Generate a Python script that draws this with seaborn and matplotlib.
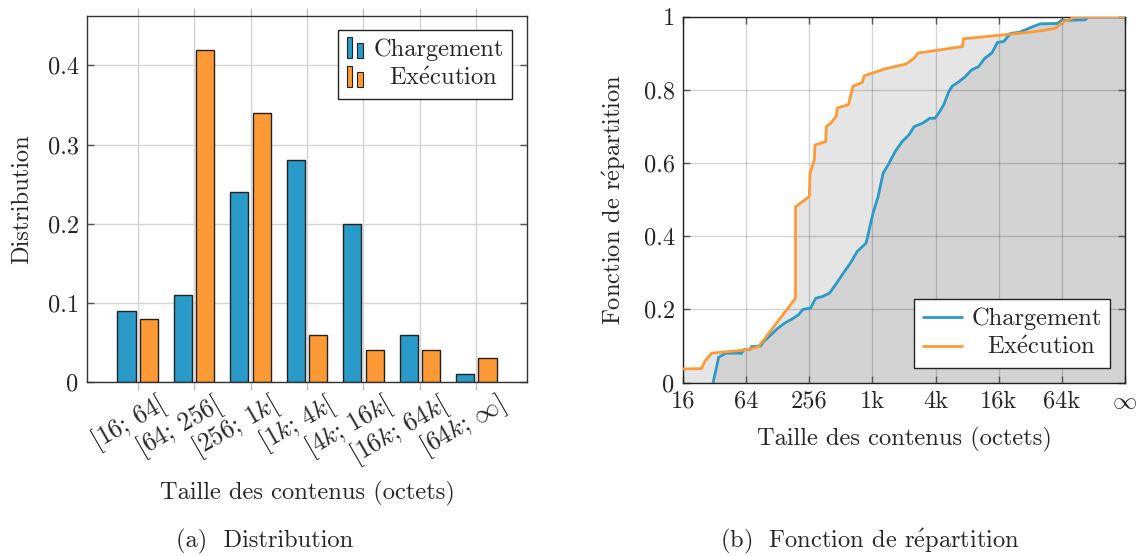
import numpy as np
import pandas as pd
import seaborn as sns
import matplotlib
matplotlib.use("Agg")
import matplotlib.pyplot as plt
import matplotlib.transforms as mtransforms
from matplotlib.patches import Rectangle
from matplotlib.legend_handler import HandlerBase
from matplotlib.lines import Line2D
from matplotlib.ticker import FixedLocator, FuncFormatter

# ---------------- data ----------------
categories = [r'$[16;\,64[$', r'$[64;\,256[$', r'$[256;\,1k[$', r'$[1k;\,4k[$',
              r'$[4k;\,16k[$', r'$[16k;\,64k[$', r'$[64k;\,\infty]$']
chargement_dist = [0.09, 0.11, 0.24, 0.28, 0.20, 0.06, 0.01]
execution_dist = [0.08, 0.42, 0.34, 0.06, 0.04, 0.04, 0.03]

exec_size = [16, 24, 26, 30, 64, 84, 189, 189, 256, 260, 286, 290, 367, 372, 416, 465,
             471, 605, 666, 820, 855, 1351, 2135, 2556, 2778, 7432, 7536, 32315, 43837,
             57052, 66454, 86475, 262144]
exec_cdf = [0.037, 0.038, 0.059, 0.080, 0.089, 0.098, 0.23, 0.48, 0.508, 0.572, 0.608,
            0.649, 0.658, 0.699, 0.71, 0.729, 0.75, 0.759, 0.809, 0.82, 0.838, 0.857,
            0.870, 0.886, 0.90, 0.918, 0.939, 0.957, 0.962, 0.968, 0.984, 0.998, 1.0]

charg_size = [31, 35, 41, 58, 60, 70, 72, 88, 94, 110, 128, 149, 174, 202, 223, 263, 294,
              342, 399, 465, 541, 630, 734, 891, 929, 1038, 1160, 1296, 1448, 1687, 1965,
              2288, 2556, 3104, 3615, 4040, 4390, 4904, 5479, 5872, 6840, 7748, 9025,
              10512, 12075, 14065, 15935, 18302, 21318, 25886, 33689, 40900, 59476, 64590,
              109474, 117331, 262144]
charg_cdf = [0.0, 0.069, 0.080, 0.080, 0.089, 0.091, 0.098, 0.100, 0.112, 0.130, 0.148,
             0.162, 0.173, 0.185, 0.200, 0.203, 0.230, 0.235, 0.244, 0.271, 0.299, 0.326,
             0.358, 0.381, 0.403, 0.463, 0.508, 0.572, 0.595, 0.631, 0.658, 0.677, 0.699,
             0.709, 0.722, 0.722, 0.736, 0.759, 0.795, 0.809, 0.822, 0.834, 0.854, 0.863,
             0.886, 0.90, 0.929, 0.932, 0.954, 0.957, 0.971, 0.98, 0.981, 0.989, 0.991,
             1.0, 1.0]

size_ticks = [16, 64, 256, 1024, 4096, 16384, 65536, 262144]
size_tick_labels = ['16', '64', '256', '1k', '4k', '16k', '64k', r'$\infty$']
EACUTE = r'$\acute{\mathrm{e}}$'
series_names = ['Chargement', 'Ex' + EACUTE + 'cution']

BLUE = '#2a9bc8'
ORANGE = '#fd9a35'

# ---------------- style ----------------
sns.set_theme(style='white')
plt.rcParams['font.family'] = ['cmr10', 'DejaVu Serif']
plt.rcParams['mathtext.fontset'] = 'cm'
plt.rcParams['axes.formatter.use_mathtext'] = True
plt.rcParams['axes.unicode_minus'] = False
FS = 17.6

W, H = 1139, 556
fig = plt.figure(figsize=(W / 100, H / 100), dpi=100)
L1, R1, T1, B1 = 87, 527, 15.5, 382
L2, R2, T2, B2 = 683, 1125, 16.5, 382.5
ax1 = fig.add_axes([L1 / W, 1 - B1 / H, (R1 - L1) / W, (B1 - T1) / H])
ax2 = fig.add_axes([L2 / W, 1 - B2 / H, (R2 - L2) / W, (B2 - T2) / H])

# ---------------- left: distribution ----------------
df = pd.DataFrame({
    'cat': categories * 2,
    'val': chargement_dist + execution_dist,
    'serie': [series_names[0]] * len(categories) + [series_names[1]] * len(categories),
})
sns.barplot(data=df, x='cat', y='val', hue='serie', order=categories,
            hue_order=series_names, palette=[BLUE, ORANGE], gap=0.2, width=0.8,
            edgecolor='#222222', linewidth=1.0, saturation=1, legend=False, ax=ax1)
ax1.set_xlim(-0.9, 6.9)
ax1.set_ylim(0, 0.463)
ax1.yaxis.set_major_locator(FixedLocator([0, 0.1, 0.2, 0.3, 0.4]))
ax1.yaxis.set_major_formatter(FuncFormatter(lambda v, p: '0' if v == 0 else f'{v:.1f}'))
ax1.set_axisbelow(True)
ax1.grid(True, color='#d4d4d4', linewidth=1.0)
ax1.tick_params(axis='x', which='both', direction='out', length=6, color='#c0c0c0',
                width=1, top=True, bottom=True, labelsize=18.5, pad=9)
ax1.tick_params(axis='y', direction='in', length=5, color='#555555', width=1,
                left=True, right=True, labelsize=FS, pad=6)
shift = mtransforms.ScaledTranslation(0.27, 0, fig.dpi_scale_trans)
for lab in ax1.get_xticklabels():
    lab.set_rotation(30)
    lab.set_ha('right')
    lab.set_va('center')
    lab.set_rotation_mode('anchor')
    lab.set_transform(lab.get_transform() + shift)
ax1.set_xlabel('Taille des contenus (octets)', fontsize=FS)
ax1.xaxis.set_label_coords(0.5, (B1 - 493) / (B1 - T1))
ax1.xaxis.label.set_va('center')
ax1.set_ylabel('Distribution', fontsize=FS)
ax1.yaxis.set_label_coords((22 - L1) / (R1 - L1), 0.5)
ax1.yaxis.label.set_va('center')
for s in ax1.spines.values():
    s.set_color('#333333')
    s.set_linewidth(1.0)


class TwoBars(HandlerBase):
    def create_artists(self, legend, orig_handle, xdescent, ydescent, width, height,
                       fontsize, trans):
        fc = orig_handle.get_facecolor()
        w = width * 0.3
        h = height * 1.2
        y0 = -ydescent - height * 0.1
        r1 = Rectangle((-xdescent, y0), w, h, facecolor=fc, edgecolor='#222222',
                       lw=0.8, transform=trans)
        r2 = Rectangle((-xdescent + width * 0.55, y0), w, h * 0.72, facecolor=fc,
                       edgecolor='#222222', lw=0.8, transform=trans)
        return [r1, r2]


h1 = [Rectangle((0, 0), 1, 1, facecolor=BLUE), Rectangle((0, 0), 1, 1, facecolor=ORANGE)]
leg1 = ax1.legend(h1, ['Chargement', '  ' + series_names[1]], loc='upper right',
                  handler_map={Rectangle: TwoBars()}, fontsize=FS, frameon=True,
                  fancybox=False, framealpha=1, edgecolor='#222222', handlelength=0.8,
                  handletextpad=0.3, borderaxespad=0.6, borderpad=0.35, labelspacing=0.25)
leg1.get_frame().set_linewidth(1.0)

# ---------------- right: CDF ----------------
ax2.set_xscale('log', base=4)
ax2.fill_between(exec_size, exec_cdf, 0, color='#e5e5e5', linewidth=0, zorder=1)
ax2.fill_between(charg_size, charg_cdf, 0, color='#d3d3d3', linewidth=0, zorder=1.1)
sns.lineplot(x=charg_size, y=charg_cdf, sort=False, estimator=None, color=BLUE,
             linewidth=2.0, ax=ax2, zorder=3)
sns.lineplot(x=exec_size, y=exec_cdf, sort=False, estimator=None, color=ORANGE,
             linewidth=2.0, ax=ax2, zorder=3.1)
ax2.set_xlim(16, 262144)
ax2.set_ylim(0, 1)
ax2.xaxis.set_major_locator(FixedLocator(size_ticks))
ax2.xaxis.set_minor_locator(FixedLocator([]))
ax2.set_xticklabels(size_tick_labels)
ax2.yaxis.set_major_locator(FixedLocator([0, 0.2, 0.4, 0.6, 0.8, 1.0]))
ax2.yaxis.set_major_formatter(FuncFormatter(
    lambda v, p: '0' if v == 0 else ('1' if v == 1 else f'{v:.1f}')))
ax2.set_axisbelow('line')
ax2.grid(True, color='black', alpha=0.17, linewidth=1.0)
ax2.tick_params(axis='both', direction='in', length=5, color='#555555', width=1,
                left=True, right=True, top=True, bottom=True, labelsize=FS)
ax2.tick_params(axis='x', pad=6)
ax2.tick_params(axis='y', pad=6)
ax2.set_xlabel('Taille des contenus (octets)', fontsize=FS)
ax2.xaxis.set_label_coords(0.5, (B2 - 439) / (B2 - T2))
ax2.xaxis.label.set_va('center')
ax2.set_ylabel('Fonction de r' + EACUTE + 'partition', fontsize=FS)
ax2.yaxis.set_label_coords((614 - L2) / (R2 - L2), 0.5)
ax2.yaxis.label.set_va('center')
for s in ax2.spines.values():
    s.set_color('#222222')
    s.set_linewidth(1.0)

h2 = [Line2D([0], [0], color=BLUE, lw=2), Line2D([0], [0], color=ORANGE, lw=2)]
leg2 = ax2.legend(h2, ['Chargement', '  ' + series_names[1]], loc='lower right',
                  fontsize=FS, frameon=True, fancybox=False, framealpha=1,
                  edgecolor='#222222', handlelength=1.6, handletextpad=0.4,
                  borderaxespad=0.6, borderpad=0.35, labelspacing=0.25)
leg2.get_frame().set_linewidth(1.0)

fig.text(265 / W, 1 - 541 / H, '(a)  Distribution', ha='center', va='center', fontsize=FS)
fig.text(870 / W, 1 - 541 / H, '(b)  Fonction de r' + EACUTE + 'partition', ha='center',
         va='center', fontsize=FS)

fig.savefig('out.png', dpi=100)
